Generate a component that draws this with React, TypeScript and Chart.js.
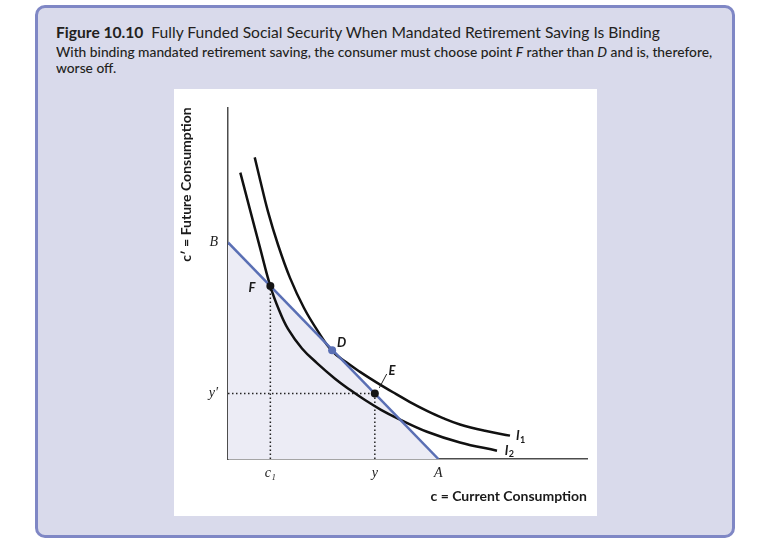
import React, { useEffect, useLayoutEffect, useRef } from "react";
import { Chart, registerables } from "chart.js";

Chart.register(...registerables);

// ---- data (axis units 0..10) ----
const budgetX = [0, 5.86];
const budgetY = [6.16, 0];

const i1X = [0.744, 0.9, 1.114, 1.393, 1.727, 2.117, 2.507, 2.897, 3.287, 3.677, 4.123, 4.596, 5.07, 5.543, 5.989, 6.462, 7.159, 7.855];
const i1Y = [8.579, 7.914, 7.036, 6.094, 5.152, 4.294, 3.629, 3.075, 2.756, 2.479, 2.188, 1.898, 1.62, 1.371, 1.163, 0.983, 0.803, 0.665];

const i2X = [0.343, 0.627, 0.891, 1.178, 1.421, 1.671, 2.061, 2.479, 2.981, 3.398, 3.816, 4.262, 4.735, 5.543, 6.462, 7.493];
const i2Y = [8.144, 7.036, 6.011, 4.917, 4.238, 3.698, 3.144, 2.729, 2.285, 1.967, 1.676, 1.399, 1.15, 0.776, 0.471, 0.235];

const pointX = [1.18, 2.9, 4.09];
const pointY = [4.92, 3.09, 1.86];
const pointColors = ["#151515", "#5a6fb4", "#151515"];

const guideC1X = [1.18, 1.18];
const guideC1Y = [0, 4.92];
const guideYX = [4.09, 4.09];
const guideYY = [0, 1.86];
const guideYpX = [0, 4.09];
const guideYpY = [1.86, 1.86];

const leaderX = [4.214, 4.421];
const leaderY = [2.022, 2.418];

const xTickValues = [1.18, 4.09, 5.86];
const xTickLabels = ["c\u2081", "y", "A"];
const yTickValues = [1.86, 6.16];
const yTickLabels = ["y\u2032", "B"];

const labelTexts = ["F", "D", "E", "I", "I"];
const labelSubs = ["", "", "", "1", "2"];
const labelX = [0.669, 3.167, 4.568, 8.07, 7.76];
const labelY = [4.86, 3.31, 2.52, 0.65, 0.24];

const titleBold = "Figure 10.10";
const titleRest = "Fully Funded Social Security When Mandated Retirement Saving Is Binding";

const toXY = (xs: number[], ys: number[]) => xs.map((x, i) => ({ x, y: ys[i] }));

const labelPlugin = {
  id: "pointLabels",
  afterDatasetsDraw(chart: any) {
    const { ctx, scales } = chart;
    const sx = scales.x;
    const sy = scales.y;
    ctx.save();
    ctx.fillStyle = "#1a1a1a";
    ctx.textAlign = "center";
    ctx.textBaseline = "middle";
    labelTexts.forEach((t, i) => {
      const px = sx.getPixelForValue(labelX[i]);
      const py = sy.getPixelForValue(labelY[i]);
      ctx.font = 'italic bold 13px Lato, "Open Sans", sans-serif';
      ctx.fillText(t, px, py);
      if (labelSubs[i]) {
        const w = ctx.measureText(t).width;
        ctx.font = "bold 9px Lato, sans-serif";
        ctx.fillText(labelSubs[i], px + w / 2 + 3, py + 4);
      }
    });
    ctx.restore();
  },
};

export default function App() {
  const canvasRef = useRef<HTMLCanvasElement>(null);
  const titleRef = useRef<HTMLSpanElement>(null);
  const sub1Ref = useRef<HTMLSpanElement>(null);
  const sub2Ref = useRef<HTMLSpanElement>(null);

  useLayoutEffect(() => {
    const t = titleRef.current;
    const s1 = sub1Ref.current;
    const s2 = sub2Ref.current;
    if (t) t.style.transform = `scaleX(${604 / t.offsetWidth})`;
    if (s1 && s2) {
      const k = 656 / s1.offsetWidth;
      s1.style.transform = `scaleX(${k})`;
      s2.style.transform = `scaleX(${k})`;
    }
  }, []);

  useEffect(() => {
    if (!canvasRef.current) return;
    const dotted = {
      borderColor: "#222",
      borderWidth: 1.5,
      borderDash: [1.5, 2.5],
      pointRadius: 0,
      showLine: true,
      fill: false,
    };
    const curve = {
      borderColor: "#111",
      borderWidth: 2.5,
      pointRadius: 0,
      showLine: true,
      tension: 0.4,
    };
    const chart = new Chart(canvasRef.current, {
      type: "scatter",
      data: {
        datasets: [
          {
            data: toXY(pointX, pointY),
            pointRadius: 4,
            pointBackgroundColor: pointColors,
            pointBorderColor: pointColors,
            pointBorderWidth: 0,
            showLine: false,
          } as any,
          {
            data: toXY(leaderX, leaderY),
            borderColor: "#222",
            borderWidth: 1,
            pointRadius: 0,
            showLine: true,
          },
          {
            data: toXY(budgetX, budgetY),
            borderColor: "#5a6fb4",
            borderWidth: 2.5,
            pointRadius: 0,
            showLine: true,
            fill: false,
          },
          { data: toXY(i1X, i1Y), ...curve },
          { data: toXY(i2X, i2Y), ...curve },
          { data: toXY(guideC1X, guideC1Y), ...dotted },
          { data: toXY(guideYX, guideYY), ...dotted },
          { data: toXY(guideYpX, guideYpY), ...dotted },
          {
            data: toXY(budgetX, budgetY),
            borderWidth: 0,
            borderColor: "rgba(0,0,0,0)",
            backgroundColor: "rgb(236,236,245)",
            pointRadius: 0,
            showLine: true,
            fill: "origin",
          },
        ] as any,
      },
      options: {
        animation: false,
        responsive: false,
        maintainAspectRatio: false,
        layout: { padding: { top: 9, right: 10, left: 0, bottom: 0 } },
        plugins: {
          legend: { display: false },
          tooltip: { enabled: false },
        },
        scales: {
          x: {
            type: "linear",
            min: 0,
            max: 10,
            grid: { display: false, drawTicks: false },
            border: { color: "#4d4d4d", width: 1.5 },
            afterBuildTicks: (s: any) => {
              s.ticks = xTickValues.map((v) => ({ value: v }));
            },
            ticks: {
              autoSkip: false,
              maxRotation: 0,
              padding: 6,
              color: "#222",
              font: { family: '"Liberation Serif", serif', style: "italic", size: 14 },
              callback: (v: any) => xTickLabels[xTickValues.indexOf(Number(v))] ?? "",
            },
            title: {
              display: true,
              text: "c = Current Consumption",
              align: "end",
              color: "#1a1a1a",
              font: { family: 'Lato, "Open Sans", sans-serif', weight: "bold", size: 14 },
              padding: { top: 0, bottom: 11 },
            },
            afterFit: (s: any) => {
              s.height = 57;
            },
          },
          y: {
            type: "linear",
            min: 0,
            max: 10,
            grid: { display: false, drawTicks: false },
            border: { color: "#4d4d4d", width: 1.5 },
            afterBuildTicks: (s: any) => {
              s.ticks = yTickValues.map((v) => ({ value: v }));
            },
            ticks: {
              autoSkip: false,
              padding: 10,
              color: "#222",
              font: { family: '"Liberation Serif", serif', style: "italic", size: 14 },
              callback: (v: any) => yTickLabels[yTickValues.indexOf(Number(v))] ?? "",
            },
            title: {
              display: true,
              text: "c\u2032 = Future Consumption",
              align: "end",
              color: "#1a1a1a",
              font: { family: 'Lato, "Open Sans", sans-serif', weight: "bold", size: 14 },
              padding: { top: 3.6, bottom: 0 },
            },
            afterFit: (s: any) => {
              s.width = 54;
            },
          },
        },
      } as any,
      plugins: [labelPlugin],
    });
    return () => chart.destroy();
  }, []);

  const lineStyle: React.CSSProperties = {
    display: "inline-block",
    whiteSpace: "nowrap",
    transformOrigin: "0 50%",
  };

  return (
    <div style={{ position: "absolute", left: 0, top: 0, width: 764, height: 550, background: "#fff" }}>
      <div
        style={{
          position: "absolute",
          left: 35,
          top: 5,
          width: 700,
          height: 533,
          boxSizing: "border-box",
          border: "3px solid #7f87c5",
          borderRadius: 10,
          background: "#d9daeb",
        }}
      />
      <div
        style={{
          position: "absolute",
          left: 56,
          top: 22,
          fontFamily: 'Lato, "Open Sans", sans-serif',
          fontSize: 15,
          lineHeight: "20px",
          color: "#231f20",
        }}
      >
        <span ref={titleRef} style={lineStyle}>
          <b>{titleBold}</b>
          {"\u00a0\u00a0" + titleRest}
        </span>
      </div>
      <div
        style={{
          position: "absolute",
          left: 56,
          top: 45,
          fontFamily: 'Lato, "Open Sans", sans-serif',
          fontSize: 12.5,
          fontWeight: 500,
          lineHeight: "16px",
          color: "#231f20",
        }}
      >
        <span ref={sub1Ref} style={lineStyle}>
          With binding mandated retirement saving, the consumer must choose point <i>F</i> rather than <i>D</i> and is,
          therefore,
        </span>
        <br />
        <span ref={sub2Ref} style={lineStyle}>
          worse off.
        </span>
      </div>
      <div style={{ position: "absolute", left: 174, top: 89, width: 423, height: 427, background: "#fff" }}>
        <canvas ref={canvasRef} width={423} height={427} style={{ display: "block" }} />
      </div>
    </div>
  );
}
